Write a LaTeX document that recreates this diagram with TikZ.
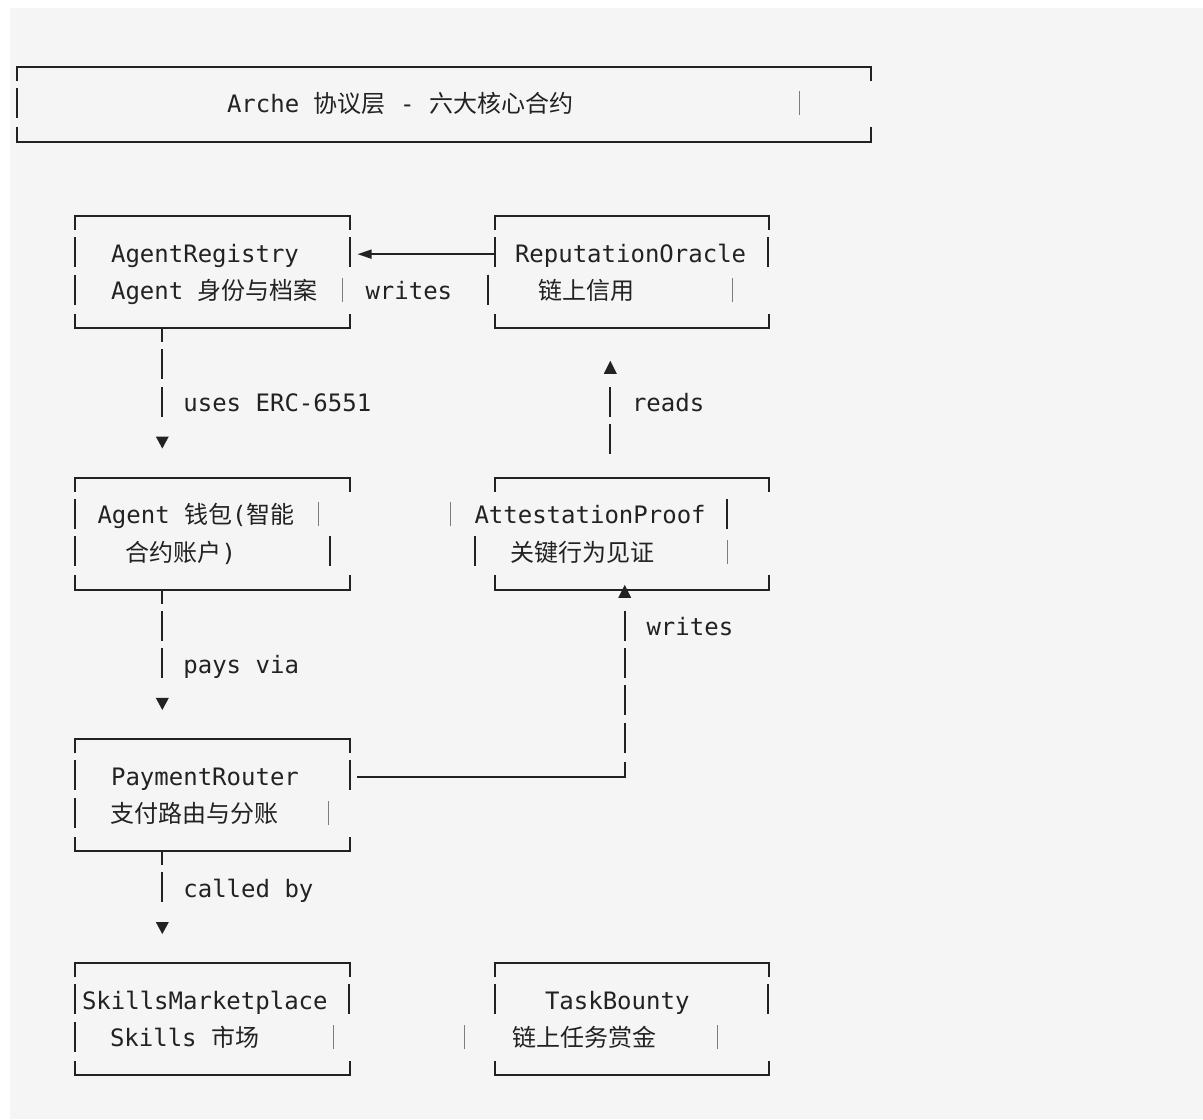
\documentclass[tikz,border=0pt]{standalone}
\usepackage{fontspec}
\setmonofont{DejaVu Sans Mono}
\newfontfamily\cjk{Noto Sans CJK SC}
\definecolor{bgc}{RGB}{245,245,245}
\definecolor{ink}{RGB}{34,34,34}
\definecolor{thinc}{RGB}{125,125,125}
\tikzset{
  txt/.style={anchor=base west, inner sep=0pt, outer sep=0pt, text=ink,
              font=\ttfamily\fontsize{12pt}{14pt}\selectfont},
  boxline/.style={draw=ink, line width=1pt, line cap=butt, line join=miter},
  thinbar/.style={draw=thinc, line width=0.5pt},
  tri/.style={fill=ink, draw=none}
}
% row helpers
\newcommand\akH[3]{\draw[boxline] (#1,{ry(#3)}) -- (#2,{ry(#3)});}
\newcommand\akV[2]{\draw[boxline] (#1,{ry(#2)-16.5}) -- (#1,{ry(#2)+13.5});}
\newcommand\akT[2]{\draw[thinbar] (#1,{ry(#2)-13}) -- (#1,{ry(#2)+11});}
\newcommand\akDn[2]{\draw[boxline] (#1,{ry(#2)}) -- (#1,{ry(#2)+14});}
\newcommand\akTop[3]{\draw[boxline] (#1,{ry(#3)+14}) -- (#1,{ry(#3)}) -- (#2,{ry(#3)}) -- (#2,{ry(#3)+14});}
\newcommand\akBot[3]{\draw[boxline] (#1,{ry(#3)-14.5}) -- (#1,{ry(#3)}) -- (#2,{ry(#3)}) -- (#2,{ry(#3)-14.5});}
\newcommand\akTriD[2]{\fill[tri] (#1-6.5,{ry(#2)-4}) -- (#1+6.5,{ry(#2)-4}) -- (#1,{ry(#2)+8}) -- cycle;}
\newcommand\akTriU[2]{\fill[tri] (#1-6.5,{ry(#2)+8}) -- (#1+6.5,{ry(#2)+8}) -- (#1,{ry(#2)-5}) -- cycle;}
\newcommand\akTxt[4]{\node[txt] (#1) at (#2,{ry(#3)+8.6}) {#4};}

\begin{document}
\begin{tikzpicture}[x=0.5pt,y=-0.5pt, declare function={ry(\r)=67+37.35*\r;}]
\useasboundingbox (0,0) rectangle (1203,1119);
\fill[white] (0,0) rectangle (1203,1119);
\fill[bgc] (10,8) rectangle (1203,1119);

% ---------- title box ----------
\akTop{17}{870.7}{0}
\akBot{17}{870.7}{2}
\akV{17}{1}
\akT{799}{1}
\akTxt{title}{227}{1}{Arche {\cjk 协议层} - {\cjk 六大核心合约}}

% ---------- AgentRegistry ----------
\akTop{75}{349.8}{4}
\akBot{75}{349.8}{7}
\akV{75}{5} \akV{349.8}{5}
\akV{75}{6} \akT{342}{6}
\akTxt{ar1}{111.1}{5}{AgentRegistry}
\akTxt{ar2}{111.1}{6}{Agent {\cjk 身份与档案}}

% ---------- ReputationOracle ----------
\akTop{494.5}{769.4}{4}
\akBot{494.5}{769.4}{7}
\akV{494.5}{5} \akV{768}{5}
\akV{488}{6} \akT{732}{6}
\akTxt{ro1}{515}{5}{ReputationOracle}
\akTxt{ro2}{538.5}{6}{\cjk 链上信用}

% writes arrow (ReputationOracle -> AgentRegistry)
\draw[boxline] (371,{ry(5)}) -- (494.5,{ry(5)});
\fill[tri] (357.7,{ry(5)+0.4}) -- (371.7,{ry(5)-4.4}) -- (371.7,{ry(5)+5.2}) -- cycle;
\akTxt{lwrites1}{365.5}{6}{writes}

% uses ERC-6551
\akDn{162.3}{7}
\akV{162.3}{8} \akV{162.3}{9}
\akTriD{162.3}{10}
\akTxt{luses}{183.4}{9}{uses ERC-6551}

% reads
\akTriU{610.3}{8}
\akV{610.3}{9} \akV{610.3}{10}
\akTxt{lreads}{632}{9}{reads}

% ---------- Agent wallet ----------
\akTop{75}{349.8}{11}
\akBot{75}{349.8}{14}
\akV{75}{12} \akT{318}{12}
\akV{75}{13} \akV{330}{13}
\akTxt{aw1}{97.5}{12}{Agent {\cjk 钱包}({\cjk 智能}}
\akTxt{aw2}{125.5}{13}{{\cjk 合约账户})}

% ---------- AttestationProof ----------
\akTop{494.5}{769.4}{11}
\akBot{494.5}{769.4}{14}
\akT{450}{12} \akV{727}{12}
\akV{475}{13} \akT{727}{13}
\akTxt{ap1}{474.5}{12}{AttestationProof}
\akTxt{ap2}{510.5}{13}{\cjk 关键行为见证}

% pays via
\akDn{162.3}{14}
\akV{162.3}{15} \akV{162.3}{16}
\akTriD{162.3}{17}
\akTxt{lpays}{183.4}{16}{pays via}

% writes (PaymentRouter -> AttestationProof)
\akTriU{624.7}{14}
\akV{624.7}{15} \akV{624.7}{16} \akV{624.7}{17} \akV{624.7}{18}
\draw[boxline] (357.1,{ry(19)}) -- (624.7,{ry(19)}) -- (624.7,{ry(19)-14.5});
\akTxt{lwrites2}{646.5}{15}{writes}

% ---------- PaymentRouter ----------
\akTop{75}{349.8}{18}
\akBot{75}{349.8}{21}
\akV{75}{19} \akV{349.8}{19}
\akV{75}{20} \akT{328}{20}
\akTxt{pr1}{111.1}{19}{PaymentRouter}
\akTxt{pr2}{110}{20}{\cjk 支付路由与分账}

% called by
\akDn{162.3}{21}
\akV{162.3}{22}
\akTriD{162.3}{23}
\akTxt{lcalled}{183.4}{22}{called by}

% ---------- SkillsMarketplace ----------
\akTop{75}{349.8}{24}
\akBot{75}{349.8}{27}
\akV{75}{25} \akV{349}{25}
\akV{75}{26} \akT{333}{26}
\akTxt{sm1}{82}{25}{SkillsMarketplace}
\akTxt{sm2}{110}{26}{Skills {\cjk 市场}}

% ---------- TaskBounty ----------
\akTop{494.5}{769.4}{24}
\akBot{494.5}{769.4}{27}
\akV{494.5}{25} \akV{768}{25}
\akT{464}{26} \akT{717}{26}
\akTxt{tb1}{545}{25}{TaskBounty}
\akTxt{tb2}{512.5}{26}{\cjk 链上任务赏金}
\end{tikzpicture}
\end{document}
